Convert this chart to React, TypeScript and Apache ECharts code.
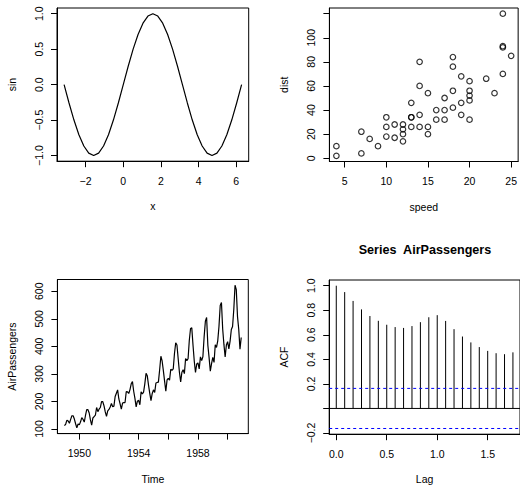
import React, { useEffect, useRef } from "react";
import * as echarts from "echarts";

const FONT = "'Liberation Sans', Arial, Helvetica, sans-serif";
const FS = 10.5;

// Panel 1: curve(sin, -pi, 2*pi)
const sinX = [
  -3.142, -2.88, -2.618, -2.356, -2.094, -1.833, -1.571, -1.309, -1.047, -0.785, -0.524, -0.262,
  0, 0.262, 0.524, 0.785, 1.047, 1.309, 1.571, 1.833, 2.094, 2.356, 2.618, 2.88,
  3.142, 3.403, 3.665, 3.927, 4.189, 4.451, 4.712, 4.974, 5.236, 5.498, 5.76, 6.021, 6.283,
];
const sinY = [
  0, -0.259, -0.5, -0.707, -0.866, -0.966, -1, -0.966, -0.866, -0.707, -0.5, -0.259,
  0, 0.259, 0.5, 0.707, 0.866, 0.966, 1, 0.966, 0.866, 0.707, 0.5, 0.259,
  0, -0.259, -0.5, -0.707, -0.866, -0.966, -1, -0.966, -0.866, -0.707, -0.5, -0.259, 0,
];

// Panel 2: cars
const carsSpeed = [
  4, 4, 7, 7, 8, 9, 10, 10, 10, 11, 11, 12, 12, 12, 12, 13, 13, 13, 13, 14, 14, 14, 14, 15, 15,
  15, 16, 16, 17, 17, 17, 18, 18, 18, 18, 19, 19, 19, 20, 20, 20, 20, 20, 22, 23, 24, 24, 24, 24, 25,
];
const carsDist = [
  2, 10, 4, 22, 16, 10, 18, 26, 34, 17, 28, 14, 20, 24, 28, 26, 34, 34, 46, 26, 36, 60, 80, 20, 26,
  54, 32, 40, 32, 40, 50, 42, 56, 76, 84, 36, 46, 68, 32, 48, 52, 56, 64, 66, 54, 70, 92, 93, 120, 85,
];

// Panel 3: AirPassengers (monthly, Jan 1949 .. Dec 1960)
const airStart = 1949;
const airPassengers = [
  112, 118, 132, 129, 121, 135, 148, 148, 136, 119, 104, 118,
  115, 126, 141, 135, 125, 149, 170, 170, 158, 133, 114, 140,
  145, 150, 178, 163, 172, 178, 199, 199, 184, 162, 146, 166,
  171, 180, 193, 181, 183, 218, 230, 242, 209, 191, 172, 194,
  196, 196, 236, 235, 229, 243, 264, 272, 237, 211, 180, 201,
  204, 188, 235, 227, 234, 264, 302, 293, 259, 229, 203, 229,
  242, 233, 267, 269, 270, 315, 364, 347, 312, 274, 237, 278,
  284, 277, 317, 313, 318, 374, 413, 405, 355, 306, 271, 306,
  315, 301, 356, 348, 355, 422, 465, 467, 404, 347, 305, 336,
  340, 318, 362, 348, 363, 435, 491, 505, 404, 359, 310, 337,
  360, 342, 406, 396, 420, 472, 548, 559, 463, 407, 362, 405,
  417, 391, 419, 461, 472, 535, 622, 606, 508, 461, 390, 432,
];

// Panel 4: ACF of AirPassengers, lags 0..21 (in years)
const acfValues = [
  1.0, 0.948, 0.876, 0.807, 0.753, 0.714, 0.682, 0.663, 0.656, 0.671, 0.703, 0.743,
  0.76, 0.713, 0.646, 0.586, 0.538, 0.5, 0.469, 0.45, 0.442, 0.457,
];
const acfCI = 0.1633;

// Tick values
const t1x = [-2, 0, 2, 4, 6];
const t1y = [-1, -0.5, 0, 0.5, 1];
const t2x = [5, 10, 15, 20, 25];
const t2yTicks = [0, 20, 40, 60, 80, 100, 120];
const t2yLabels = [0, 20, 40, 60, 80, 100];
const t3xTicks = [1950, 1952, 1954, 1956, 1958, 1960];
const t3xLabels = [1950, 1954, 1958];
const t3y = [100, 200, 300, 400, 500, 600];
const t4x = [0, 0.5, 1, 1.5];
const t4yTicks = [-0.2, 0, 0.2, 0.4, 0.6, 0.8, 1.0];
const t4yLabels = [-0.2, 0.2, 0.4, 0.6, 0.8, 1.0];

const minus = (s: string) => s.replace("-", "\u2212");
const f1 = (v: number) => minus(v.toFixed(1));
const f0 = (v: number) => minus(String(Math.round(v)));

const txt = { fontSize: FS, color: "#000", fontFamily: FONT };

function xAx(gi: number, min: number, max: number, ticks: number[], labels: number[], name: string, fmt: (v: number) => string) {
  return {
    type: "value", gridIndex: gi, min, max, name, nameLocation: "middle", nameGap: 39.5,
    nameTextStyle: txt,
    axisLine: { show: true, onZero: false, lineStyle: { color: "#000", width: 1 } },
    axisTick: { show: true, inside: false, length: 6, customValues: ticks, lineStyle: { color: "#000", width: 1 } },
    axisLabel: { ...txt, customValues: labels, margin: 14, formatter: fmt },
    splitLine: { show: false },
  };
}
function yAx(gi: number, min: number, max: number, ticks: number[], labels: number[], name: string, fmt: (v: number) => string) {
  return {
    type: "value", gridIndex: gi, min, max, name, nameLocation: "middle", nameGap: 39.5, nameRotate: 90,
    nameTextStyle: txt,
    axisLine: { show: true, onZero: false, lineStyle: { color: "#000", width: 1 } },
    axisTick: { show: true, inside: false, length: 6, customValues: ticks, lineStyle: { color: "#000", width: 1 } },
    axisLabel: { ...txt, customValues: labels, margin: 13, rotate: 90, formatter: fmt },
    splitLine: { show: false },
  };
}

const gridStyle = { show: true, borderColor: "#000", borderWidth: 1, backgroundColor: "transparent", containLabel: false };

export default function App() {
  const ref = useRef<HTMLDivElement>(null);
  useEffect(() => {
    const chart = echarts.init(ref.current!, null, { renderer: "svg" });
    const airData = airPassengers.map((v, i) => [airStart + i / 12, v]);
    const acfData = acfValues.map((v, i) => [i / 12, v]);
    const x4min = -0.07, x4max = 1.82;
    const option = {
      animation: false,
      backgroundColor: "#fff",
      textStyle: { fontFamily: FONT },
      grid: [
        { ...gridStyle, left: 57, top: 8, width: 191.7, height: 153.2 },
        { ...gridStyle, left: 329.4, top: 8, width: 192, height: 153.5 },
        { ...gridStyle, left: 57.4, top: 279.5, width: 190.9, height: 154.1 },
        { ...gridStyle, left: 329.2, top: 280, width: 191.8, height: 154.2 },
      ],
      xAxis: [
        xAx(0, -3.5186, 6.6602, t1x, t1x, "x", f0),
        xAx(1, 3.16, 25.84, t2x, t2x, "speed", f0),
        xAx(2, 1948.523, 1961.394, t3xTicks, t3xLabels, "Time", f0),
        xAx(3, x4min, x4max, t4x, t4x, "Lag", f1),
      ],
      yAxis: [
        yAx(0, -1.08, 1.08, t1y, t1y, "sin", f1),
        yAx(1, -2.72, 124.72, t2yTicks, t2yLabels, "dist", f0),
        yAx(2, 83.28, 642.72, t3y, t3y, "AirPassengers", f0),
        yAx(3, -0.2098, 1.0465, t4yTicks, t4yLabels, "ACF", f1),
      ],
      graphic: [
        {
          type: "text", x: 425, y: 250,
          style: { text: "Series  AirPassengers", fontSize: 12.6, fontWeight: "bold", fill: "#000", fontFamily: FONT, textAlign: "center", textVerticalAlign: "middle" },
        },
      ],
      series: [
        {
          type: "line", xAxisIndex: 0, yAxisIndex: 0, showSymbol: false, symbol: "none",
          data: sinX.map((x, i) => [x, sinY[i]]),
          lineStyle: { color: "#000", width: 1.2 },
        },
        {
          type: "scatter", xAxisIndex: 1, yAxisIndex: 1, symbol: "circle", symbolSize: 5.5,
          data: carsSpeed.map((s, i) => [s, carsDist[i]]),
          itemStyle: { color: "rgba(0,0,0,0)", borderColor: "#000", borderWidth: 1.2 },
        },
        {
          type: "line", xAxisIndex: 2, yAxisIndex: 2, showSymbol: false, symbol: "none",
          data: airData,
          lineStyle: { color: "#000", width: 1.2 },
        },
        {
          type: "custom", xAxisIndex: 3, yAxisIndex: 3,
          data: acfData,
          renderItem: (params: any, api: any) => {
            const lag = api.value(0), v = api.value(1);
            const p0 = api.coord([lag, 0]);
            const p1 = api.coord([lag, v]);
            return { type: "line", shape: { x1: p0[0], y1: p0[1], x2: p1[0], y2: p1[1] }, style: { stroke: "#000", lineWidth: 1 } };
          },
        },
        {
          type: "line", xAxisIndex: 3, yAxisIndex: 3, showSymbol: false, symbol: "none",
          data: [[x4min, 0], [x4max, 0]],
          lineStyle: { color: "#000", width: 1 },
        },
        {
          type: "line", xAxisIndex: 3, yAxisIndex: 3, showSymbol: false, symbol: "none",
          data: [[x4min, acfCI], [x4max, acfCI]],
          lineStyle: { color: "#0000ff", width: 1, type: [3, 3] },
        },
        {
          type: "line", xAxisIndex: 3, yAxisIndex: 3, showSymbol: false, symbol: "none",
          data: [[x4min, -acfCI], [x4max, -acfCI]],
          lineStyle: { color: "#0000ff", width: 1, type: [3, 3] },
        },
      ],
    };
    chart.setOption(option as any);
    return () => chart.dispose();
  }, []);
  return <div ref={ref} style={{ position: "fixed", left: 0, top: 0, width: 520, height: 486 }} />;
}
